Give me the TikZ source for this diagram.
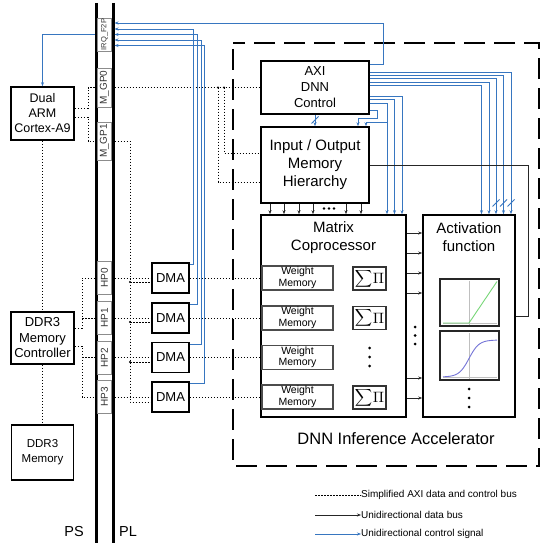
\documentclass[tikz,border=0pt]{standalone}
\usepackage{fontspec}
\usepackage{graphicx}
\setmainfont{Liberation Sans}
\usetikzlibrary{arrows.meta}
\definecolor{ctlblue}{RGB}{55,118,192}
\definecolor{plotgreen}{RGB}{120,215,120}
\definecolor{plotblue}{RGB}{115,115,215}
\newcommand{\sumprod}{$\vcenter{\hbox{\scalebox{1.2}{$\displaystyle\sum$}}}\mkern1mu\vcenter{\hbox{\scalebox{1.5}{$\Pi$}}}$}
\begin{document}
\begin{tikzpicture}[x=1pt,y=-1pt,
  blk/.style={draw, line width=1.6pt, fill=white, align=center, inner sep=0pt},
  port/.style={draw=black!45, line width=0.8pt, fill=white, inner sep=0pt, rotate=90, minimum height=14pt, text=black!80},
  wmem/.style={draw=black!70, line width=1.2pt, fill=white, align=center, inner sep=0pt, minimum width=71pt, minimum height=24pt, font=\fontsize{10.5}{11.5}\selectfont},
  sbox/.style={draw=black!80, line width=1.2pt, fill=white, inner sep=0pt, minimum width=33pt, minimum height=23pt},
  plotbox/.style={draw=black!85, line width=1.2pt, fill=white, inner sep=0pt, minimum width=59pt},
  bus/.style={line width=0.9pt, dash pattern=on 1.6pt off 1.4pt},
  ctl/.style={ctlblue, line width=0.9pt},
  data/.style={black!85, line width=0.9pt},
  tip/.style={-{Stealth[length=4pt,width=3pt]}},
  lbl/.style={align=center, inner sep=0pt}
]
\fill[white] (0,0) rectangle (541,543);
\useasboundingbox (0,0) rectangle (541,543);

% accelerator dashed frame
\draw[line width=2.5pt, dash pattern=on 21pt off 9pt, dash phase=-6pt] (233,43) rectangle (539,466);
\node[lbl, font=\fontsize{16.5}{18}\selectfont] (acctxt) at (396,439) {DNN Inference Accelerator};

% PS / PL bars
\draw[line width=3pt] (96,3) -- (96,543);
\draw[line width=3pt] (113,3) -- (113,543);
\coordinate (barL) at (94.5,0);
\coordinate (barR) at (114.5,0);
\node[lbl, font=\fontsize{14.5}{16}\selectfont] (ps) at (74,532) {PS};
\node[lbl, font=\fontsize{14.5}{16}\selectfont] (pl) at (128,532) {PL};

% ports
\node[port, minimum width=33pt, font=\fontsize{7.5}{8}\selectfont] (irq) at (104.5,34.5) {IRQ\_F2P};
\node[port, minimum width=39pt, font=\fontsize{10}{11}\selectfont] (gp0) at (104.5,87.5) {M\_GP0};
\node[port, minimum width=38pt, font=\fontsize{10}{11}\selectfont] (gp1) at (104.5,141) {M\_GP1};
\node[port, minimum width=33pt, font=\fontsize{10}{11}\selectfont] (hp0) at (104.5,278) {HP0};
\node[port, minimum width=33pt, font=\fontsize{10}{11}\selectfont] (hp1) at (104.5,318) {HP1};
\node[port, minimum width=33pt, font=\fontsize{10}{11}\selectfont] (hp2) at (104.5,357.5) {HP2};
\node[port, minimum width=33pt, font=\fontsize{10}{11}\selectfont] (hp3) at (104.5,397) {HP3};

% PS blocks
\node[blk, minimum width=63pt, minimum height=53pt, font=\fontsize{12.5}{15}\selectfont] (arm) at (42.5,113.5) {Dual\\ARM\\Cortex-A9};
\node[blk, minimum width=63pt, minimum height=52pt, font=\fontsize{13}{15.5}\selectfont] (ctrl) at (42.5,338) {DDR3\\Memory\\Controller};
\node[blk, minimum width=62pt, minimum height=55pt, font=\fontsize{11.5}{15}\selectfont] (ddr) at (42.5,452.5) {DDR3\\Memory};

% DMAs
\foreach \i/\y in {0/278,1/318,2/357.5,3/397}
  \node[blk, minimum width=37pt, minimum height=30pt, font=\fontsize{13}{15}\selectfont] (dma\i) at (170.5,\y) {DMA};

% accelerator blocks
\node[blk, minimum width=108pt, minimum height=53pt, font=\fontsize{13}{16}\selectfont] (axi) at (315,87.5) {AXI\\DNN\\Control};
\node[blk, minimum width=108pt, minimum height=76pt, font=\fontsize{15}{18}\selectfont] (io) at (315,165) {Input / Output\\Memory\\Hierarchy};
\node[blk, minimum width=145pt, minimum height=202pt] (mat) at (333.5,316) {};
\node[lbl, font=\fontsize{15}{18}\selectfont] (mattxt) at (333.5,237.5) {Matrix\\Coprocessor};
\node[blk, minimum width=92pt, minimum height=202pt] (act) at (469,316) {};
\node[lbl, font=\fontsize{15}{18}\selectfont] (acttxt) at (469,237.5) {Activation\\function};

% weight memories and sum-product units
\foreach \i/\y in {0/278,1/318,2/357.5,3/397}
  \node[wmem] (wm\i) at (297.5,\y) {Weight\\Memory};
\foreach \i/\y in {0/278.5,1/318,3/397.5}
  \node[sbox] (sp\i) at (369.5,\y) {\sumprod};
\foreach \y in {348,357,366} \fill (369.5,\y) circle[radius=1.5pt];

% activation plots
\node[plotbox, minimum height=47pt] (relu) at (469.5,302.5) {};
\node[plotbox, minimum height=49pt] (sig) at (469.5,355.5) {};
\draw[black!25, line width=0.5pt] (469,281) -- (469,324.5);
\draw[black!25, line width=0.5pt] (443,323) -- (497,323);
\draw[plotgreen, line width=0.9pt] (443,323) -- (469,323) -- (497,281.5);
\draw[black!25, line width=0.5pt] (469,333) -- (469,378.5);
\draw[black!25, line width=0.5pt] (443,377.5) -- (497,377.5);
\draw[plotblue, line width=0.9pt] plot[domain=443:497, samples=60, smooth] (\x, {377 - 37/(1+exp(-(\x-469)/5))});
\foreach \y in {389,398,407} \fill (469,\y) circle[radius=1.5pt];

% ---------- dotted AXI buses ----------
\draw[bus] (arm.south) -- (ctrl.north);
\draw[bus] (ctrl.south) -- (ddr.north);
\draw[bus] (arm.east |- 0,108) -- (88,108) -- (88,87.5) -- (barL |- gp0.center);
\draw[bus] (barR |- gp0.center) -- (axi.west);
\draw[bus] (224,87.5) -- (224,153) -- (io.west |- 0,153);
\draw[bus] (218,87.5) -- (218,182) -- (io.west |- 0,182);
\fill (218,87.5) circle[radius=1.2pt] (224,87.5) circle[radius=1.2pt];
\draw[bus] (arm.east |- 0,117) -- (88,117) -- (88,141) -- (barL |- gp1.center);
\draw[bus] (barR |- gp1.center) -- (130,141) -- (130,402) -- (dma3.west |- 0,402);
\foreach \i/\y in {0/282,1/322,2/362} {
  \draw[bus] (130,\y) -- (dma\i.west |- 0,\y);
  \fill (130,\y) circle[radius=1.2pt];
}
\draw[bus] (ctrl.east |- 0,328) -- (82,328) -- (82,278) -- (barL |- hp0.center);
\draw[bus] (82,318) -- (barL |- hp1.center);
\draw[bus] (ctrl.east |- 0,346) -- (82,346) -- (82,397) -- (barL |- hp3.center);
\draw[bus] (82,357.5) -- (barL |- hp2.center);
\foreach \i in {0,1,2,3} {
  \draw[bus] (barR |- hp\i.center) -- (dma\i.west);
  \draw[bus] (dma\i.east) -- (wm\i.west);
}

% ---------- blue control signals ----------
\draw[ctl,tip] (barL |- 0,34.5) -- (arm.north |- 0,34.5) -- (arm.north);
\draw[ctl,tip] (axi.east |- 0,64) -- (383,64) -- (383,23) -- (barR |- 0,23);
\draw[ctl,tip] (dma0.east |- 0,264.5) -- (193,264.5) -- (193,29) -- (barR |- 0,29);
\draw[ctl,tip] (dma1.east |- 0,304.5) -- (197,304.5) -- (197,34.5) -- (barR |- 0,34.5);
\draw[ctl,tip] (dma2.east |- 0,344) -- (201,344) -- (201,40) -- (barR |- 0,40);
\draw[ctl,tip] (dma3.east |- 0,383.5) -- (204.5,383.5) -- (204.5,45.5) -- (barR |- 0,45.5);

\draw[ctl,tip] (axi.south) -- (io.north);
\draw[ctl] (311.5,123.5) -- (318.5,116.5);
\draw[ctl,tip] (axi.east |- 0,110) -- (377,110) -- (377,118) -- (358,118) -- (io.north -| 358,0);
\draw[ctl,tip] (387,122) -- (366,122) -- (io.north -| 366,0);
\draw[ctl,tip] (axi.east |- 0,96) -- (402,96) -- (mat.north -| 402,0);
\draw[ctl,tip] (axi.east |- 0,99.5) -- (394.5,99.5) -- (mat.north -| 394.5,0);
\draw[ctl,tip] (axi.east |- 0,103) -- (387,103) -- (mat.north -| 387,0);
\foreach \y/\x in {72/511, 75.3/503.5, 78.6/496, 82/489, 85.3/481.5}
  \draw[ctl,tip] (axi.east |- 0,\y) -- (\x,\y) -- (act.north -| \x,0);
\foreach \x in {496,503.5,511}
  \draw[ctl] (\x-3.5,206.5) -- (\x+3.5,199.5);

% ---------- black data buses ----------
\draw[data] (io.east |- 0,165) -- (528,165) -- (528,316) -- (act.east |- 0,316);
\foreach \x in {270,284,299,313,346,361}
  \draw[data,tip] (io.south -| \x,0) -- (mat.north -| \x,0);
\foreach \x in {324,329,334} \fill (\x,208.5) circle[radius=1.3pt];
\foreach \y in {233,253,273,293,378,398}
  \draw[data,tip] (mat.east |- 0,\y) -- (act.west |- 0,\y);
\foreach \y in {327,335.5,344} \fill (415,\y) circle[radius=1.5pt];

% ---------- legend ----------
\coordinate (lg1) at (315,495);
\coordinate (lg2) at (315,515);
\coordinate (lg3) at (315,534);
\node[lbl, anchor=west, font=\fontsize{10}{12}\selectfont] (lt1) at (361,495) {Simplified AXI data and control bus};
\node[lbl, anchor=west, font=\fontsize{10}{12}\selectfont] (lt2) at (361,515) {Unidirectional data bus};
\node[lbl, anchor=west, font=\fontsize{10}{12}\selectfont] (lt3) at (361,534) {Unidirectional control signal};
\draw[bus] (lg1) -- (lt1.west);
\draw[data,tip] (lg2) -- (lt2.west);
\draw[ctl,tip] (lg3) -- (lt3.west);
\end{tikzpicture}
\end{document}
